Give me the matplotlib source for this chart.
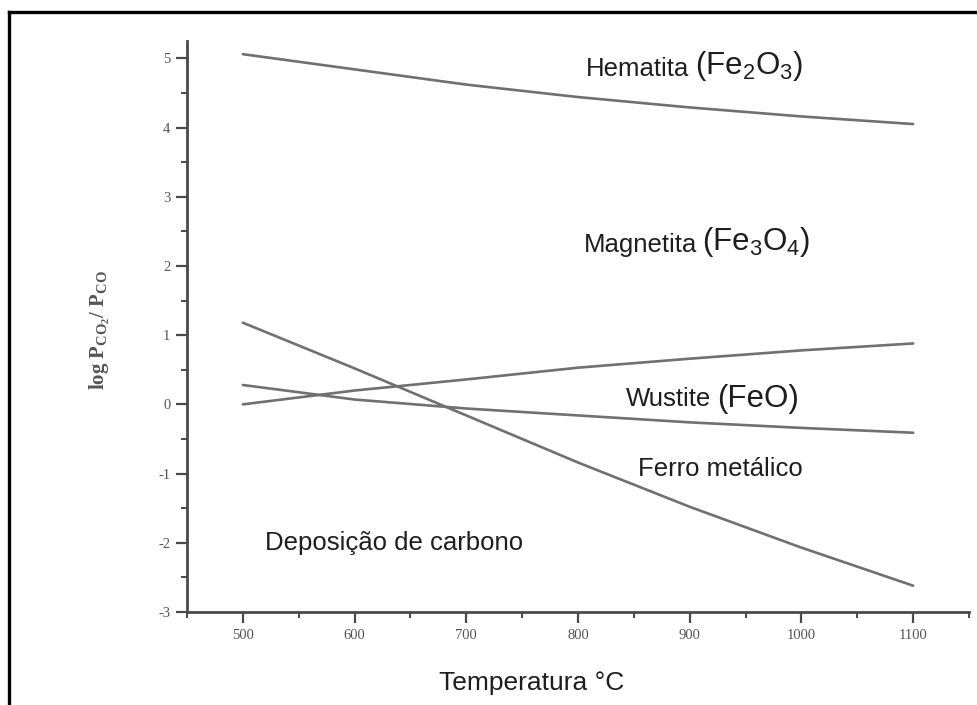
import numpy as np
import matplotlib.pyplot as plt
from matplotlib.lines import Line2D
from matplotlib.ticker import MultipleLocator

plt.rcParams["axes.unicode_minus"] = False

# temperatures (degC) where the curves were read
temps = [500, 600, 700, 800, 900, 1000, 1100]

# log(P_CO2 / P_CO)
hematite_magnetite = [5.06, 4.84, 4.62, 4.44, 4.29, 4.16, 4.05]
magnetite_wustite = [0.00, 0.20, 0.36, 0.53, 0.66, 0.78, 0.88]
wustite_iron = [0.28, 0.07, -0.06, -0.16, -0.26, -0.34, -0.41]
boudouard = [1.18, 0.52, -0.16, -0.84, -1.48, -2.07, -2.62]

x_ticks = [500, 600, 700, 800, 900, 1000, 1100]
y_ticks = [-3, -2, -1, 0, 1, 2, 3, 4, 5]

line_col = "#707070"
axis_col = "#4a4a4a"
text_col = "#1e1e1e"
sans = ["Liberation Sans", "DejaVu Sans"]
serif = ["Liberation Serif", "DejaVu Serif"]

fig = plt.figure(figsize=(9.78, 7.05), dpi=100)
ax = fig.add_axes([187 / 978, 1 - 612 / 705, (969 - 187) / 978, (612 - 41) / 705])

for ys in [hematite_magnetite, magnetite_wustite, wustite_iron, boudouard]:
    ax.plot(temps, ys, color=line_col, lw=1.9, solid_capstyle="round")

ax.set_xlim(450, 1150)
ax.set_ylim(-3, 5.25)
ax.set_xticks(x_ticks)
ax.set_yticks(y_ticks)
ax.xaxis.set_minor_locator(MultipleLocator(50))
ax.yaxis.set_minor_locator(MultipleLocator(0.5))

for s in ["top", "right"]:
    ax.spines[s].set_visible(False)
for s in ["left", "bottom"]:
    ax.spines[s].set_color(axis_col)
    ax.spines[s].set_linewidth(2.0)

ax.tick_params(which="major", direction="out", length=8, width=1.6, color=axis_col,
               labelcolor="#555555", labelsize=10.5, pad=4)
ax.tick_params(which="minor", direction="out", length=4, width=1.4, color=axis_col)
for lab in ax.get_xticklabels() + ax.get_yticklabels():
    lab.set_family(serif)


def region_label(x, y, name, formula=None, size=18.5, fsize=22.5):
    t = ax.text(x, y, name, fontsize=size, family=sans, color=text_col,
                ha="left", va="baseline")
    if formula:
        ax.annotate(formula, xy=(1, 0), xycoords=t, fontsize=fsize, family=sans,
                    color=text_col, ha="left", va="bottom", xytext=(4, -1.5),
                    textcoords="offset points")


region_label(807, 4.74, "Hematita", r"(Fe$\mathregular{_2}$O$\mathregular{_3}$)")
region_label(805, 2.20, "Magnetita", r"(Fe$\mathregular{_3}$O$\mathregular{_4}$)")
region_label(843, -0.03, "Wustite", "(FeO)")
region_label(854, -1.03, "Ferro metálico")
region_label(520, -2.10, "Deposição de carbono")

fig.text(532 / 978, 1 - 683 / 705, "Temperatura °C", fontsize=19, family=sans,
         color=text_col, ha="center", va="center")
fig.text(100 / 978, 1 - 330 / 705,
         r"log P$\mathregular{_{CO_2}}$/ P$\mathregular{_{CO}}$",
         fontsize=15, family=serif, fontweight="bold", color="#555555",
         rotation=90, ha="center", va="center")

# black frame (left and top edge only, as in the reference)
fig.add_artist(Line2D([8.5 / 978, 8.5 / 978], [0, 1 - 12 / 705], transform=fig.transFigure,
                      color="black", lw=2.4, solid_capstyle="projecting"))
fig.add_artist(Line2D([8.5 / 978, 1], [1 - 12 / 705, 1 - 12 / 705], transform=fig.transFigure,
                      color="black", lw=2.4, solid_capstyle="projecting"))

fig.savefig("out.png", dpi=100)
